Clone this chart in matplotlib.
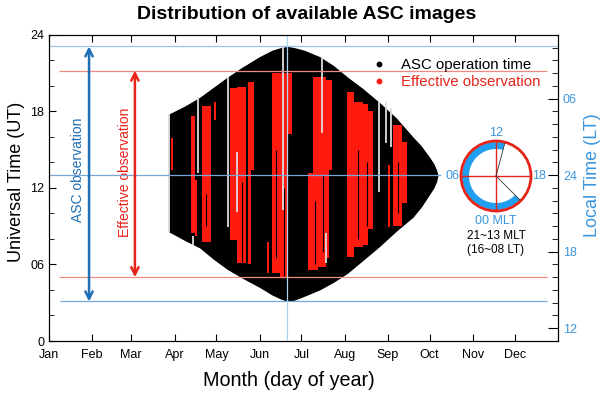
import matplotlib
matplotlib.use("Agg")
import matplotlib.pyplot as plt
import numpy as np
from matplotlib.lines import Line2D
from matplotlib.patches import Circle, Wedge

plt.rcParams['font.family'] = ['Liberation Sans', 'DejaVu Sans']

# month ticks (day of year)
month_days = [1, 32, 60, 91, 121, 152, 182, 213, 244, 274, 305, 335]
month_names = ['Jan', 'Feb', 'Mar', 'Apr', 'May', 'Jun', 'Jul', 'Aug', 'Sep', 'Oct', 'Nov', 'Dec']

# ASC operation envelope (UT hours)
env_day = [87, 98, 109, 119, 129, 140, 152, 161, 167, 172, 177, 184, 195, 205, 215, 226, 238, 250, 262, 268, 274, 277, 279, 280]
env_top = [17.8, 18.4, 19.1, 19.9, 20.7, 21.5, 22.3, 22.8, 23.0, 23.1, 23.0, 22.8, 22.3, 21.6, 20.7, 19.8, 18.7, 17.5, 16.0, 15.3, 14.4, 13.9, 13.4, 13.0]
env_bot = [8.55, 7.9, 7.3, 6.4, 5.6, 4.9, 4.2, 3.6, 3.3, 3.1, 3.2, 3.5, 4.0, 4.6, 5.3, 6.3, 7.4, 8.6, 9.7, 10.5, 11.5, 12.0, 12.5, 13.0]

# effective observation blocks
red_d0 = [88.5, 103, 106, 111, 119, 131, 136, 144, 144, 157, 161, 167, 172, 187, 190, 194, 200, 200, 215, 220, 226, 230, 244, 248, 254]
red_d1 = [90, 106, 108, 117, 120.5, 136, 142, 148, 146, 159, 167, 172, 175, 190, 194, 200, 204, 202, 220, 226, 230, 233, 245.5, 254, 258]
red_lo = [13.4, 8.5, 8.2, 7.8, 17.3, 7.9, 6.1, 13.4, 6.0, 5.3, 5.3, 5.0, 16.2, 5.6, 5.6, 5.8, 13.4, 6.5, 6.6, 7.4, 7.5, 8.8, 8.9, 9.0, 10.8]
red_hi = [15.9, 17.6, 12.6, 18.4, 18.7, 19.8, 19.9, 20.3, 13.4, 7.8, 21.0, 21.0, 21.0, 13.2, 20.7, 20.7, 20.5, 13.4, 19.5, 18.7, 18.6, 18.0, 13.8, 16.9, 15.6]

# dark gaps inside the red blocks
gap_day = [107.2, 113.5, 139.5, 164.0, 169.5, 192.0, 197.5, 222.5, 229.0, 251.0]
gap_lo = [8.2, 9.0, 6.1, 6.5, 5.0, 6.0, 7.0, 8.0, 9.0, 10.0]
gap_hi = [12.6, 11.5, 12.5, 15.0, 12.0, 11.0, 13.0, 15.0, 14.0, 14.0]

# missing data (white lines)
white_day = [87, 104, 108, 129.5, 136, 169, 197, 200, 238, 242.5, 246]
white_lo = [8.55, 7.5, 13.2, 8.9, 10.1, 10.3, 16.3, 6.1, 11.7, 15.5, 15.2]
white_hi = [17.8, 8.2, 19.1, 20.7, 14.8, 23.1, 22.3, 8.5, 18.7, 18.7, 18.3]

asc_lines = [3.1, 13.0, 23.1]
eff_lines = [5.0, 21.2]
solstice = 172

lt_ut_pos = [1, 7, 13, 19]
lt_labels = ['12', '18', '24', '06']

blue = '#1f6fb4'
lblue = '#3a95dd'
red = '#ff1a10'

fig = plt.figure(figsize=(6.03, 3.93), dpi=100)
ax = fig.add_axes([0.0813, 0.1323, 0.844, 0.779])

ax.fill_between(env_day, env_bot, env_top, color='black', lw=0, zorder=1)
ax.bar(red_d0, [h - l for h, l in zip(red_hi, red_lo)], bottom=red_lo,
       width=[b - a for a, b in zip(red_d0, red_d1)], align='edge', color=red, lw=0, zorder=2)
ax.vlines(gap_day, gap_lo, gap_hi, color='black', lw=0.8, zorder=3)
ax.vlines(white_day, white_lo, white_hi, color='#dcdcdc', lw=1.3, zorder=3)

# reference lines
ax.axhline(asc_lines[2], color='#9dc1e6', lw=0.9, zorder=4)
ax.hlines(asc_lines[0], 9, 358, color='#7aa6d6', lw=0.9, zorder=4)
ax.hlines(asc_lines[1], 1, 282, color='#7aa6d6', lw=0.9, zorder=4)
ax.hlines(eff_lines, 8, 358, color='#f08a80', lw=0.9, zorder=4)
ax.axvline(solstice, color='#a9d3ef', lw=0.9, zorder=4)

# arrows
ax.annotate('', xy=(29.7, asc_lines[2]), xytext=(29.7, asc_lines[0]),
            arrowprops=dict(arrowstyle='<->', color=blue, lw=1.8, mutation_scale=13,
                            shrinkA=0, shrinkB=0), zorder=5)
ax.annotate('', xy=(62.6, eff_lines[1]), xytext=(62.6, eff_lines[0]),
            arrowprops=dict(arrowstyle='<->', color='#e8241a', lw=1.8, mutation_scale=13,
                            shrinkA=0, shrinkB=0), zorder=5)
ax.text(21.5, 13.4, 'ASC observation', rotation=90, color=blue, fontsize=10,
        ha='center', va='center')
ax.text(55.2, 13.2, 'Effective observation', rotation=90, color='#e8241a', fontsize=10,
        ha='center', va='center')

ax.set_xlim(1, 366)
ax.set_ylim(0, 24)
ax.set_xticks(month_days)
ax.set_xticklabels(month_names)
ax.set_yticks([0, 6, 12, 18, 24])
ax.set_yticklabels(['0', '06', '12', '18', '24'])
ax.set_yticks(range(0, 25, 2), minor=True)
ax.tick_params(axis='both', which='major', direction='in', length=5, labelsize=9, top=True)
ax.tick_params(axis='x', pad=6)
ax.tick_params(axis='y', which='minor', direction='in', length=3.5)
ax.tick_params(axis='y', right=False, which='both')

rax = ax.twinx()
rax.set_ylim(0, 24)
rax.set_yticks(lt_ut_pos)
rax.set_yticklabels(lt_labels)
rax.set_yticks(range(0, 25), minor=True)
rax.tick_params(axis='y', which='major', direction='in', length=7, labelsize=9, labelcolor=lblue)
rax.tick_params(axis='y', which='minor', direction='in', length=4.5)

handles = [Line2D([], [], ls='none', marker='o', ms=3.2, color='black'),
           Line2D([], [], ls='none', marker='o', ms=3.2, color=red)]
ax.legend(handles, ['ASC operation time', 'Effective observation'], loc='upper right',
          bbox_to_anchor=(548 / 603, 1 - 51 / 393), bbox_transform=fig.transFigure,
          frameon=False, fontsize=10.8, labelcolor=['black', '#e8241a'], handlelength=1.0,
          handletextpad=1.0, borderpad=0, labelspacing=0.2)

fig.text(0.508, 0.962, 'Distribution of available ASC images', ha='center', va='center',
         fontsize=14, fontweight='bold')
fig.text(0.028, 0.537, 'Universal Time (UT)', rotation=90, ha='center', va='center', fontsize=13)
fig.text(0.983, 0.555, 'Local Time (LT)', rotation=90, ha='center', va='center', fontsize=13,
         color=lblue)
fig.text(0.479, 0.033, 'Month (day of year)', ha='center', va='center', fontsize=14.2)

# MLT clock
cx, cy = 496, 176
cax = fig.add_axes([(cx - 60) / 603, (393 - cy - 60) / 393, 120 / 603, 120 / 393])
cax.set_xlim(-60, 60)
cax.set_ylim(-60, 60)
cax.axis('off')
mlt_start, mlt_end = 21, 13
th1 = 90 - (mlt_end - 12) * 15
th2 = 90 - (mlt_start - 12) * 15 + 360
cax.add_patch(Wedge((0, 0), 34, th1, th2, width=7, color='#1e9ff2', lw=0))
cax.plot([-35, 35], [0, 0], color='#e8241a', lw=1)
cax.plot([0, 0], [-35, 35], color='#e8241a', lw=1)
for th in (th1, th2):
    cax.plot([0, 34 * np.cos(np.radians(th))], [0, 34 * np.sin(np.radians(th))], color='#333333', lw=0.6)
cax.add_patch(Circle((0, 0), 35, fill=False, edgecolor='#e8241a', lw=2))
cax.text(0, 43, '12', color=lblue, fontsize=9, ha='center', va='center')
cax.text(-44, 0, '06', color=lblue, fontsize=9, ha='center', va='center')
cax.text(43, 0, '18', color=lblue, fontsize=9, ha='center', va='center')
cax.text(0, -45, '00 MLT', color=lblue, fontsize=9, ha='center', va='center')
cax.text(0, -60, '21~13 MLT', color='black', fontsize=8.5, ha='center', va='center')
cax.text(0, -74, '(16~08 LT)', color='black', fontsize=8.5, ha='center', va='center')

fig.savefig('out.png', dpi=100)
